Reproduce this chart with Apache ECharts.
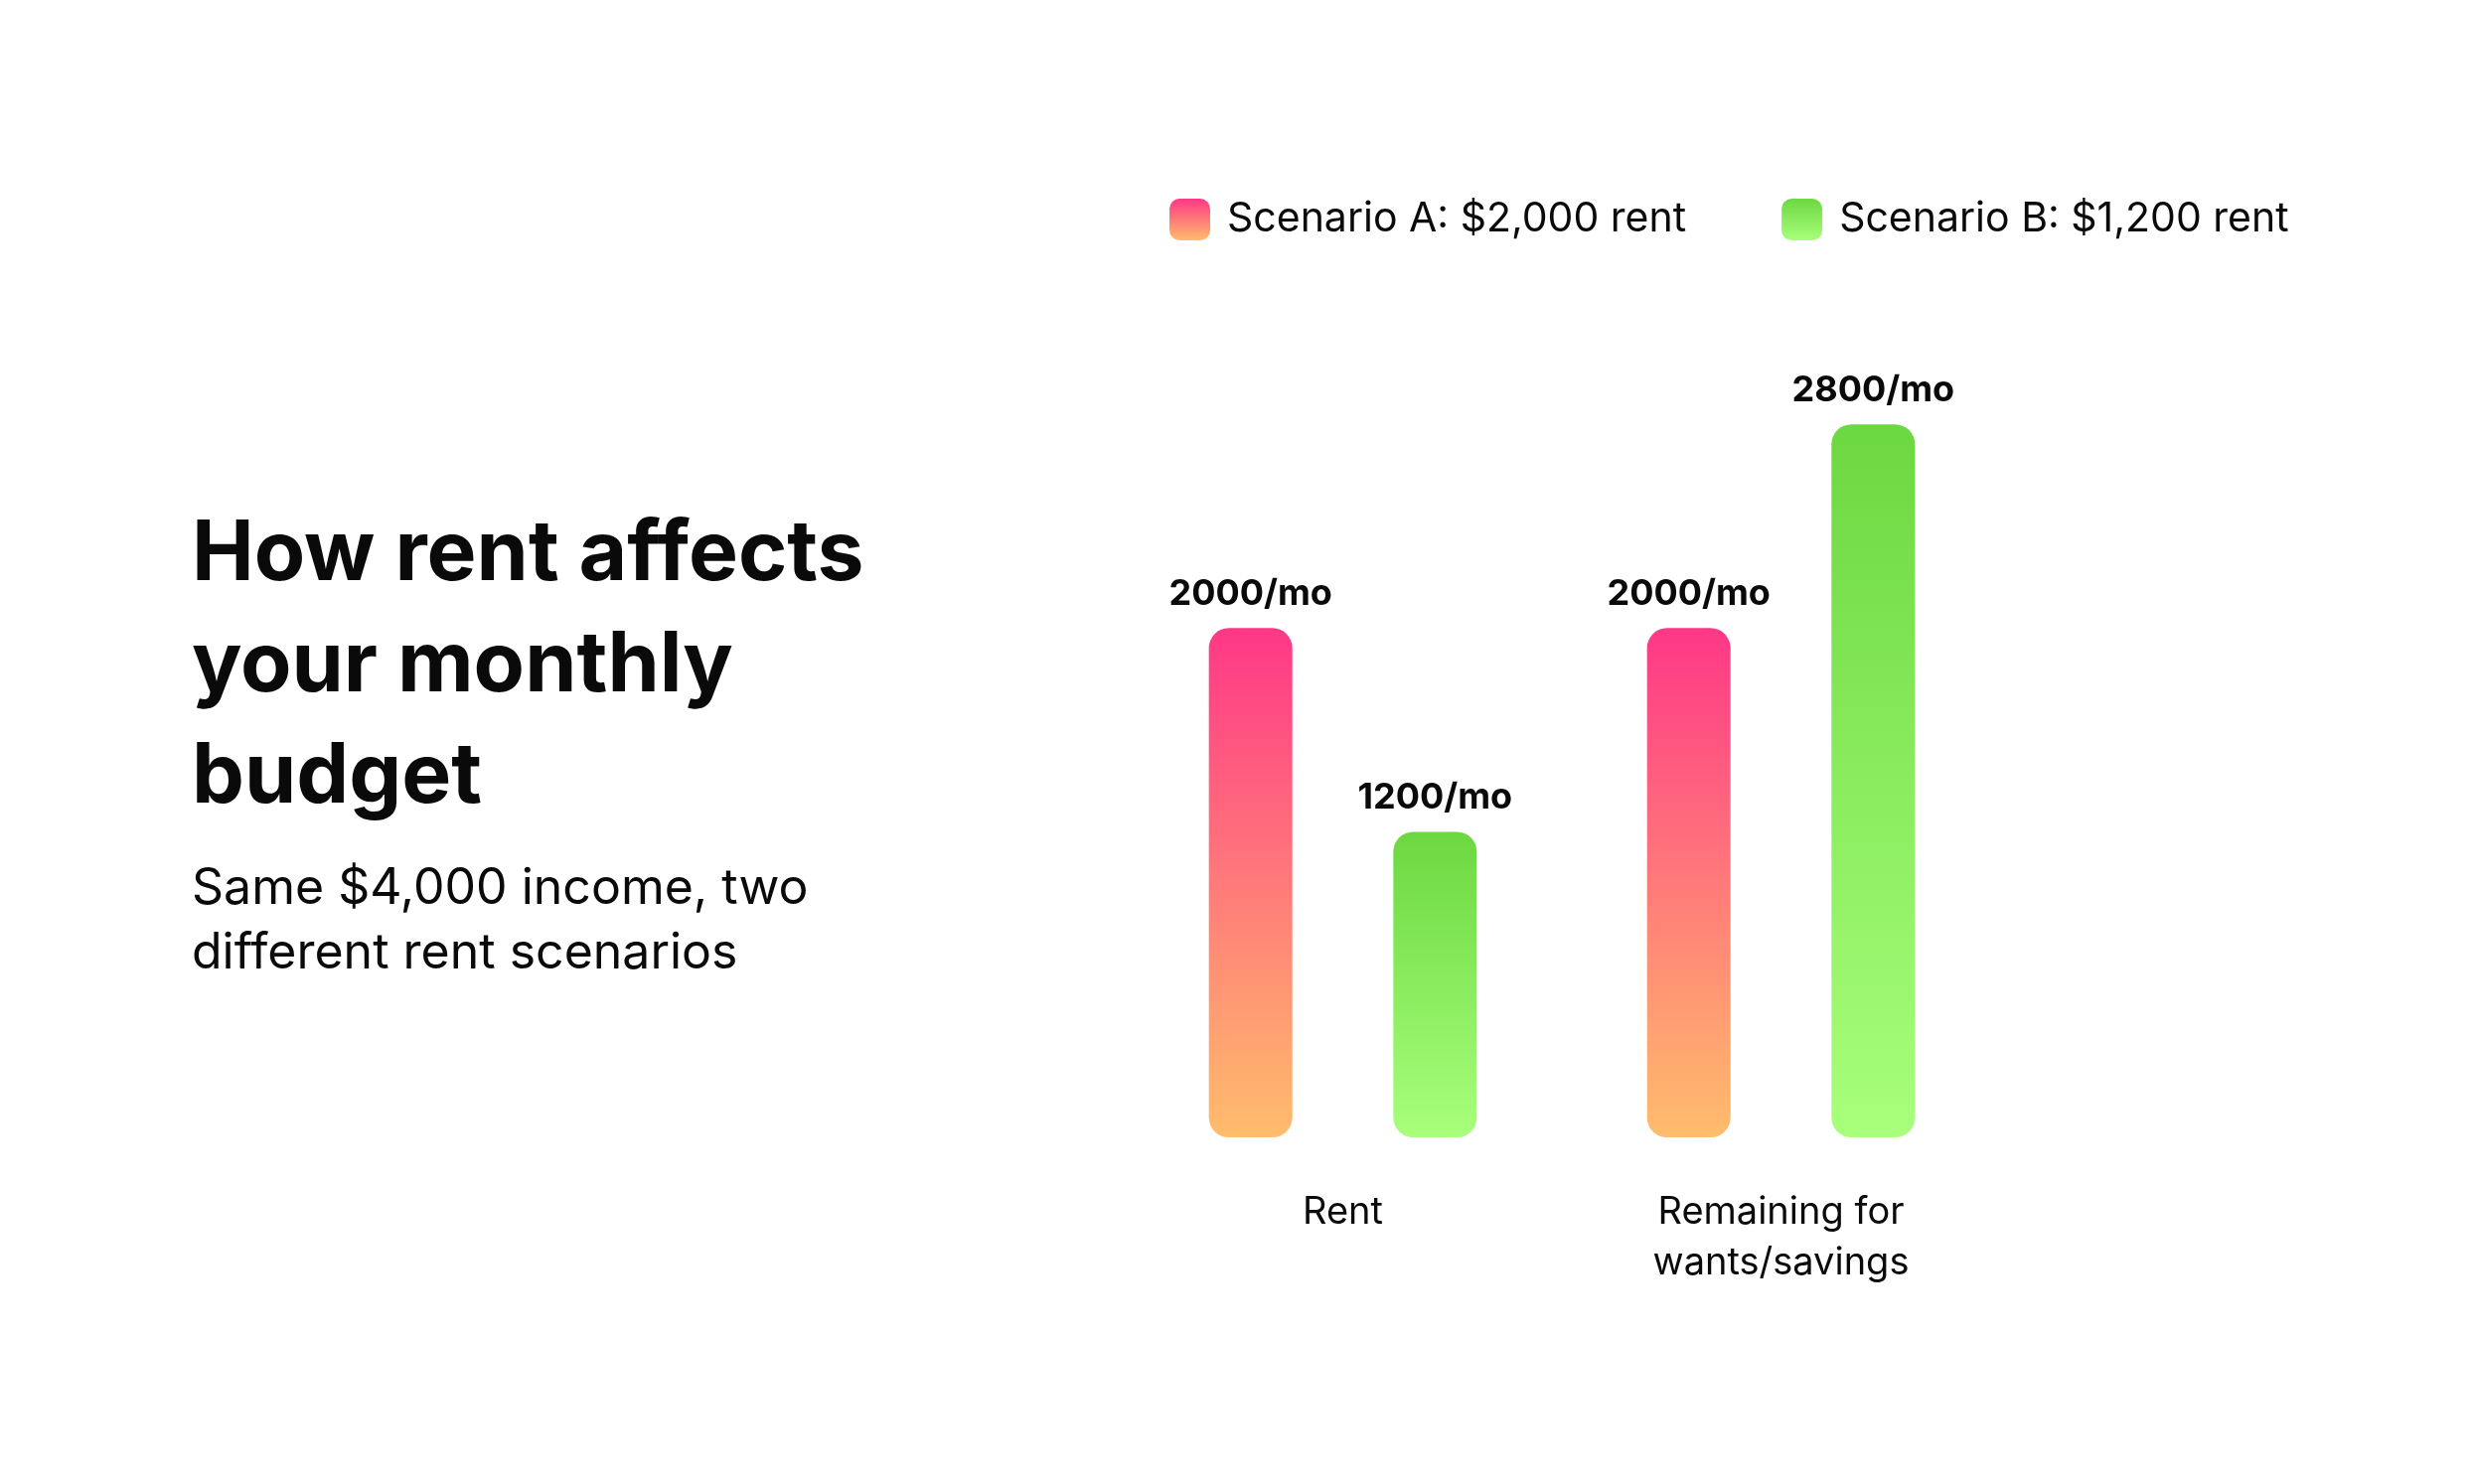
<!DOCTYPE html>
<html>
<head>
<meta charset="utf-8">
<title>How rent affects your monthly budget</title>
<script src="https://cdn.jsdelivr.net/npm/echarts@6.0.0/dist/echarts.min.js"></script>
<style>
  html, body { margin: 0; padding: 0; background: #fff; }
  #rentChart { width: 2490px; height: 1494px; }
</style>
</head>
<body>
<div id="rentChart"></div>
<script>
// 数据
var categories = ['Rent', 'Remaining for\nwants/savings'];
var seriesNames = ['Scenario A: $2,000 rent', 'Scenario B: $1,200 rent'];
var scenarioA = [2000, 2000];
var scenarioB = [1200, 2800];
var titleText = 'How rent affects\nyour monthly\nbudget';
var subText = 'Same $4,000 income, two\ndifferent rent scenarios';

var rentChart = function () {
  'use strict';

  var configMap = {
    font: 'Inter',
    textColor: '#0a0a0a',
    pink: ['#ff3787', '#ffbd6c'],
    green: ['#6cd841', '#a8ff7b']
  };

  // 竖向渐变
  var gradient = function (stops) {
    return {
      type: 'linear', x: 0, y: 0, x2: 0, y2: 1,
      colorStops: [
        { offset: 0, color: stops[0] },
        { offset: 1, color: stops[1] }
      ]
    };
  };

  var barSeries = function (name, data, stops) {
    return {
      name: name,
      type: 'bar',
      data: data,
      barWidth: 84,
      barGap: '121%',
      itemStyle: {
        color: gradient(stops),
        borderRadius: 20
      },
      label: {
        show: true,
        position: 'top',
        distance: 16,
        formatter: '{c}/mo',
        fontFamily: configMap.font,
        fontSize: 36,
        fontWeight: 'bold',
        color: configMap.textColor
      }
    };
  };

  var initChart = function () {
    var myChart = echarts.init(document.getElementById('rentChart'));
    var option = {
      backgroundColor: '#ffffff',
      animation: false,
      title: [
        {
          text: titleText,
          left: 188,
          top: 498,
          textStyle: {
            fontFamily: configMap.font,
            fontSize: 84,
            fontWeight: 'bold',
            lineHeight: 112,
            color: configMap.textColor
          }
        },
        {
          text: subText,
          left: 188,
          top: 857,
          textStyle: {
            fontFamily: configMap.font,
            fontSize: 50,
            fontWeight: 'normal',
            lineHeight: 65,
            color: configMap.textColor
          }
        }
      ],
      legend: {
        data: seriesNames,
        left: 1172,
        top: 195,
        icon: 'roundRect',
        itemWidth: 41,
        itemHeight: 42,
        itemGap: 96,
        textStyle: {
          fontFamily: configMap.font,
          fontSize: 41,
          color: configMap.textColor,
          padding: [0, 0, 0, 12]
        }
      },
      grid: {
        left: 1131,
        right: 477,
        top: 376,
        bottom: 349
      },
      xAxis: {
        type: 'category',
        data: categories,
        axisLine: { show: false },
        axisTick: { show: false },
        axisLabel: {
          margin: 50,
          fontFamily: configMap.font,
          fontSize: 38,
          lineHeight: 51,
          color: configMap.textColor
        }
      },
      yAxis: {
        type: 'value',
        min: 0,
        max: 3000,
        show: false
      },
      series: [
        barSeries(seriesNames[0], scenarioA, configMap.pink),
        barSeries(seriesNames[1], scenarioB, configMap.green)
      ]
    };
    myChart.setOption(option);
  };

  return {
    init: function () {
      initChart();
    }
  };
}();

rentChart.init();
</script>
</body>
</html>
